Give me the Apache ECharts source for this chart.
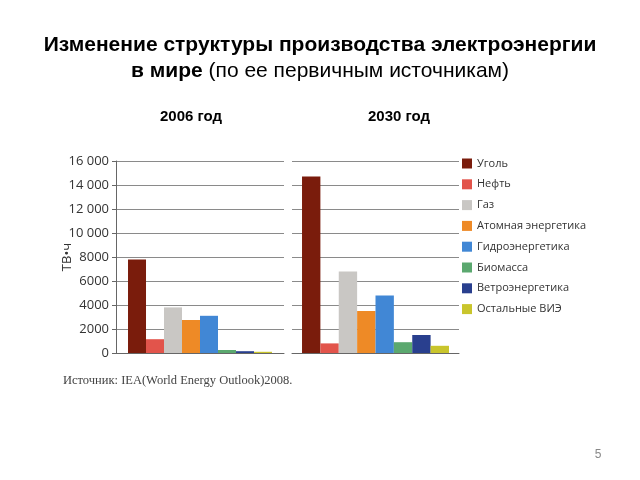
<!DOCTYPE html>
<html><head><meta charset="utf-8">
<script src="https://cdn.jsdelivr.net/npm/echarts@6/dist/echarts.min.js"></script>
<style>html,body{margin:0;padding:0;background:#fff}#c{width:640px;height:480px}</style>
</head><body><div id="c"></div>
<script>
var sources = ['Уголь','Нефть','Газ','Атомная энергетика','Гидроэнергетика','Биомасса','Ветроэнергетика','Остальные ВИЭ'];
var colors = ['#7a1c0c','#e2544b','#c9c7c4','#ee8a26','#4187d5','#5ba86f','#293f8e','#c9c52c'];
var values2006 = [7800, 1150, 3800, 2750, 3100, 250, 150, 100];
var values2030 = [14700, 800, 6800, 3500, 4800, 900, 1500, 600];
var years = ['2006 год','2030 год'];
var yTicks = {min:0, max:16000, interval:2000};

var chart = echarts.init(document.getElementById('c'), null, {renderer:'canvas'});
function fmt(v){ return v >= 10000 ? String(v).replace(/(\d+)(\d{3})$/, '$1 $2') : String(v); }
var series = [];
sources.forEach(function(s,i){
  series.push({type:'bar', name:s, xAxisIndex:0, yAxisIndex:0, data:[values2006[i]], itemStyle:{color:colors[i]}, barGap:'0%', barCategoryGap:'14.3%'});
});
sources.forEach(function(s,i){
  series.push({type:'bar', name:s, xAxisIndex:1, yAxisIndex:1, data:[values2030[i]], itemStyle:{color:colors[i]}, barGap:'0%', barCategoryGap:'12%'});
});
var splitStyle = {lineStyle:{color:'#8a8a8a', width:1}};
chart.setOption({
  animation:false,
  textStyle:{fontFamily:'Open Sans'},
  grid:[
    {left:116, top:161, width:168, height:192},
    {left:292, top:161, width:167, height:192}
  ],
  xAxis:[
    {type:'category', gridIndex:0, data:[''], axisLine:{lineStyle:{color:'#666'}}, axisTick:{show:false}, axisLabel:{show:false}},
    {type:'category', gridIndex:1, data:[''], axisLine:{lineStyle:{color:'#666'}}, axisTick:{show:false}, axisLabel:{show:false}}
  ],
  yAxis:[
    {type:'value', gridIndex:0, min:yTicks.min, max:yTicks.max, interval:yTicks.interval,
     axisLine:{show:true, lineStyle:{color:'#666'}}, axisTick:{show:true, length:4, lineStyle:{color:'#666'}},
     axisLabel:{formatter:fmt, color:'#333', fontSize:13, margin:7, fontFamily:'Open Sans'},
     splitLine:splitStyle,
     name:'ТВ•ч', nameLocation:'middle', nameGap:42, nameMoveOverlap:false, nameTextStyle:{color:'#333', fontSize:13, fontFamily:'Open Sans'}},
    {type:'value', gridIndex:1, min:yTicks.min, max:yTicks.max, interval:yTicks.interval,
     axisLine:{show:false}, axisTick:{show:false}, axisLabel:{show:false}, splitLine:splitStyle}
  ],
  legend:{
    data:sources, orient:'vertical', left:457, top:153, itemWidth:10, itemHeight:10, itemGap:9.8,
    icon:'rect', textStyle:{color:'#333', fontSize:11, fontFamily:'Open Sans'}, selectedMode:false
  },
  graphic:[
    {type:'text', left:'center', top:35, style:{text:'Изменение структуры производства электроэнергии', font:'bold 21px "Liberation Sans", Arial', fill:'#000'}},
    {type:'text', left:'center', top:61, style:{text:'{b|в мире }{n|(по ее первичным источникам)}', rich:{b:{font:'bold 21px "Liberation Sans", Arial', fill:'#000'}, n:{font:'21px "Liberation Sans", Arial', fill:'#000'}}}},
    {type:'text', x:191, y:117, style:{text:years[0], font:'bold 15px "Liberation Sans", Arial', fill:'#000', align:'center', verticalAlign:'middle'}},
    {type:'text', x:399, y:117, style:{text:years[1], font:'bold 15px "Liberation Sans", Arial', fill:'#000', align:'center', verticalAlign:'middle'}},
    {type:'text', x:63, y:381, style:{text:'Источник: IEA(World Energy Outlook)2008.', font:'12.5px "Liberation Serif", serif', fill:'#444', verticalAlign:'middle'}},
    {type:'text', x:598, y:455, style:{text:'5', font:'12px "Liberation Sans", Arial', fill:'#888', align:'center', verticalAlign:'middle'}}
  ],
  series:series
});
</script></body></html>
